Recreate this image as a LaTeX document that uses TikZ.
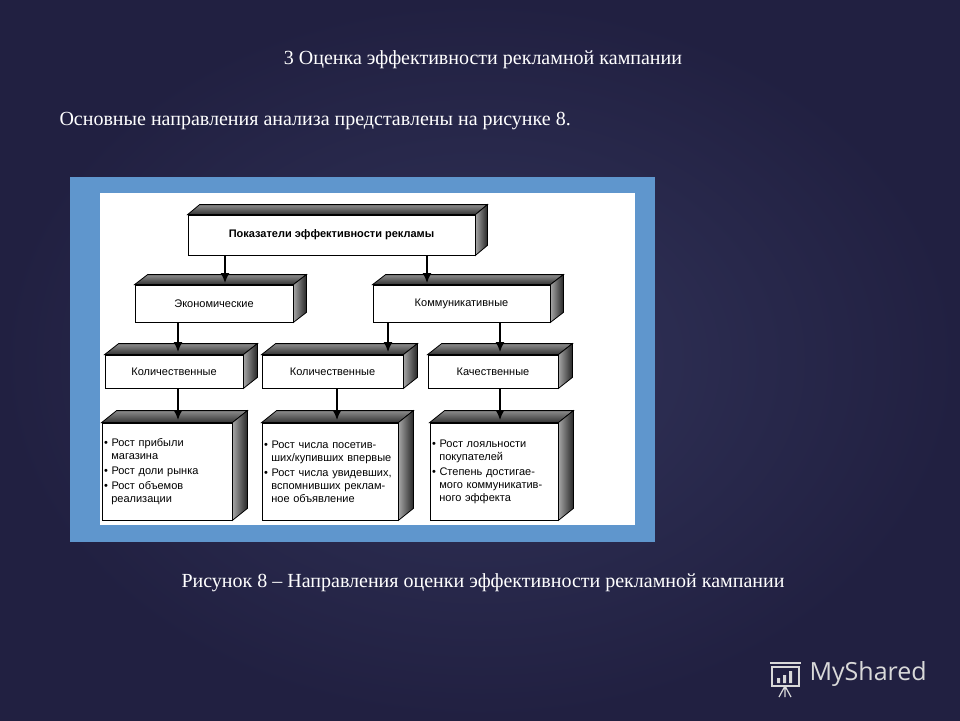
\documentclass[tikz,border=0pt]{standalone}
\usepackage{fontspec}
\usetikzlibrary{arrows.meta,calc}
\setmainfont{Liberation Serif}
\newfontfamily\boxfont{Liberation Sans}
\newfontfamily\logofont{Open Sans}
\begin{document}
\begin{tikzpicture}[x=1pt,y=-1pt,
  face/.style={draw=black,line width=0.8pt,fill=white,font=\boxfont\fontsize{11}{13}\selectfont,inner sep=2pt},
  lbl/.style={face,align=center},
  lst/.style={face,align=left,text width=#1},
  arr/.style={-{Latex[length=10pt,width=9pt]},line width=1.5pt},
  ttl/.style={text=white,font=\fontsize{20}{24}\selectfont}]
\fill[color={rgb,255:red,40;green,40;blue,75}] (0,0) rectangle (960,720);
\shade[inner color={rgb,255:red,50;green,52;blue,90},outer color={rgb,255:red,33;green,32;blue,65}] (0,0) rectangle (960,720);
\useasboundingbox (0,0) rectangle (960,720);
\node[ttl] (t1) at (483,60) {3 Оценка эффективности рекламной кампании};
\node[ttl,anchor=west] (t2) at (56,121) {Основные направления анализа представлены на рисунке 8.};
\node[ttl] (cap) at (483,583) {Рисунок 8 – Направления оценки эффективности рекламной кампании};
\fill[color={rgb,255:red,95;green,150;blue,205}] (70,177) rectangle (655,542);
\fill[white] (100,193) rectangle (635,525);
% boxes
\node[lbl,minimum width=287,minimum height=40] (top) at (331.5,235) {\bfseries Показатели эффективности рекламы};
\node[lbl,minimum width=158,minimum height=37] (eco) at (214,303.5) {Экономические};
\node[lbl,minimum width=177,minimum height=37] (com) at (461.5,303.5) {Коммуникативные};
\node[lbl,minimum width=138,minimum height=33] (q1) at (174,371.5) {Количественные};
\node[lbl,minimum width=141,minimum height=33] (q2) at (332.5,371.5) {Количественные};
\node[lbl,minimum width=130,minimum height=33] (q3) at (493,371.5) {Качественные};
\node[lst=126pt,minimum width=130,minimum height=97] (l1) at (167,471.5) {• Рост прибыли\\\ \ магазина\\[2pt]• Рост доли рынка\\[2pt]• Рост объемов\\\ \ реализации};
\node[lst=132pt,minimum width=136,minimum height=97] (l2) at (330,471.5) {• Рост числа посетив-\\\ \ ших/купивших впервые\\[2pt]• Рост числа увидевших,\\\ \ вспомнивших реклам-\\\ \ ное объявление};
\node[lst=124pt,minimum width=128,minimum height=97] (l3) at (494,471.5) {• Рост лояльности\\\ \ покупателей\\[2pt]• Степень достигае-\\\ \ мого коммуникатив-\\\ \ ного эффекта};
\foreach \n/\d/\e in {top/12/10,eco/13/10,com/13/10,q1/14/11,q2/14/11,q3/14/11,l1/15/12,l2/15/12,l3/15/12}{
  \shade[draw=black,line width=0.8pt,top color=black!45,bottom color=black!80]
    (\n.north west) -- ++(\d pt,\e pt) -- ($(\n.north east)+(\d pt,\e pt)$) -- (\n.north east) -- cycle;
  \shade[draw=black,line width=0.8pt,left color=black!35,right color=black!85]
    (\n.north east) -- ++(\d pt,\e pt) -- ($(\n.south east)+(\d pt,\e pt)$) -- (\n.south east) -- cycle;
}
\draw[arr] (top.south -| 225,0) -- (225,283);
\draw[arr] (top.south -| 427,0) -- (427,283);
\draw[arr] (eco.south -| 178,0) -- (178,352);
\draw[arr] (com.south -| 388,0) -- (388,352);
\draw[arr] (com.south -| 500,0) -- (500,352);
\draw[arr] (q1.south -| 178,0) -- (178,420);
\draw[arr] (q2.south -| 337,0) -- (337,420);
\draw[arr] (q3.south -| 500,0) -- (500,420);
% logo
\begin{scope}[draw=black!15,line width=1.2pt]
\draw (772,667) rectangle (799,686);
\draw (770,663) -- (801,663);
\draw (785,686) -- (779,697) (785,686) -- (791,697) (785,686) -- (785,697);
\fill[black!15] (777,678) rectangle (780,683) (783,675) rectangle (786,683) (789,671) rectangle (792,683);
\end{scope}
\node[anchor=west,text=black!15,font=\logofont\fontsize{25}{28}\selectfont] (logo) at (806,674) {MyShared};
\end{tikzpicture}
\end{document}
